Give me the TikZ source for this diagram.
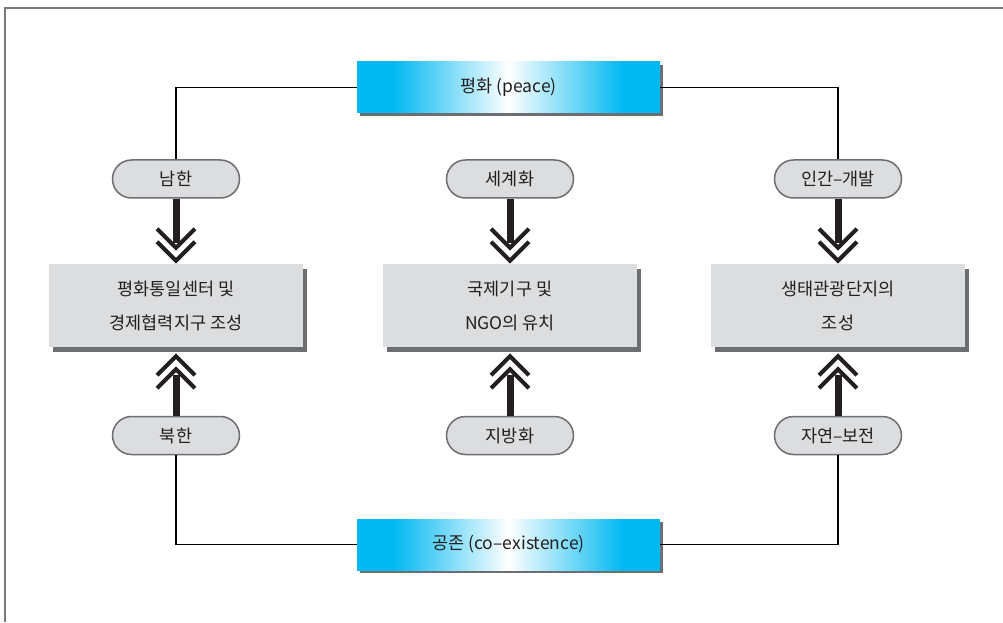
\documentclass[tikz,border=0pt]{standalone}
\usepackage{fontspec}
\setmainfont{Noto Sans CJK KR}
\usetikzlibrary{shadows,calc}
\definecolor{cy}{HTML}{00B9F1}
\definecolor{pillgray}{HTML}{DCDDDF}
\definecolor{edgegray}{HTML}{6D6E71}
\definecolor{ink}{HTML}{231F20}
\definecolor{framegray}{HTML}{7A7A7C}
\pgfdeclarehorizontalshading{cyanmid}{100bp}{color(0bp)=(cy); color(25bp)=(cy); color(31bp)=(cy); color(50bp)=(white); color(69bp)=(cy); color(75bp)=(cy); color(100bp)=(cy)}
\tikzset{
  pill/.style={draw=edgegray, line width=1.5pt, fill=pillgray, rounded corners=19pt,
    minimum width=127pt, minimum height=38pt, inner sep=0pt,
    font=\fontsize{17.5}{20}\selectfont, text=ink},
  mainbox/.style={fill=pillgray, minimum width=254pt, minimum height=83pt, inner sep=0pt,
    align=center, font=\fontsize{17.5}{34}\selectfont, text=ink,
    drop shadow={shadow xshift=4pt, shadow yshift=-5pt, fill=edgegray, opacity=1}},
  bluebox/.style={shade, shading=cyanmid, minimum width=303pt, minimum height=51pt, inner sep=0pt,
    font=\fontsize{17.5}{20}\selectfont, text=ink,
    drop shadow={shadow xshift=3pt, shadow yshift=-3pt, fill=edgegray, opacity=1}},
  conn/.style={draw=black, line width=1.2pt},
  shaft/.style={draw=ink, line width=7pt},
  chev/.style={draw=ink, line width=4pt, miter limit=10}
}
\newcommand{\arrdn}[2]{%
  \draw[shaft] (#1.south) -- ($(#2.north)+(0,21)$);
  \draw[chev] ($(#2.north)+(-19,35)$) -- ($(#2.north)+(0,16)$) -- ($(#2.north)+(19,35)$);
  \draw[chev] ($(#2.north)+(-19,22)$) -- ($(#2.north)+(0,3)$) -- ($(#2.north)+(19,22)$);
}
\newcommand{\arrup}[2]{%
  \draw[shaft] (#1.north) -- ($(#2.south)+(0,-28)$);
  \draw[chev] ($(#2.south)+(-19,-28)$) -- ($(#2.south)+(0,-9)$) -- ($(#2.south)+(19,-28)$);
  \draw[chev] ($(#2.south)+(-19,-41)$) -- ($(#2.south)+(0,-22)$) -- ($(#2.south)+(19,-41)$);
}
\begin{document}
\begin{tikzpicture}[x=1pt,y=1pt]
\useasboundingbox (0,0) rectangle (1003,622);
\fill[white] (0,0) rectangle (1003,622);
\draw[framegray, line width=2pt] (5,0) -- (5,614) -- (1003,614);

% blue boxes
\node[bluebox] (peace) at (508.5,534.5) {평화 (peace)};
\node[bluebox] (coex) at (508.5,77.5) {공존 (co–existence)};

% pills
\node[pill] (p1) at (176,443) {남한};
\node[pill] (p2) at (510,443) {세계화};
\node[pill] (p3) at (838,443) {인간–개발};
\node[pill] (q1) at (176,186.5) {북한};
\node[pill] (q2) at (510,186.5) {지방화};
\node[pill] (q3) at (838,186.5) {자연–보전};

% main boxes
\node[mainbox] (b1) at (176,316.5) {평화통일센터 및\\경제협력지구 조성};
\node[mainbox] (b2) at (510,316.5) {국제기구 및\\NGO의 유치};
\node[mainbox] (b3) at (838,316.5) {생태관광단지의\\조성};

% connectors
\draw[conn] (peace.west) -| (p1.north);
\draw[conn] (peace.east) -| (p3.north);
\draw[conn] (coex.west) -| (q1.south);
\draw[conn] (coex.east) -| (q3.south);

% arrows
\arrdn{p1}{b1}
\arrdn{p2}{b2}
\arrdn{p3}{b3}
\arrup{q1}{b1}
\arrup{q2}{b2}
\arrup{q3}{b3}
\end{tikzpicture}
\end{document}
